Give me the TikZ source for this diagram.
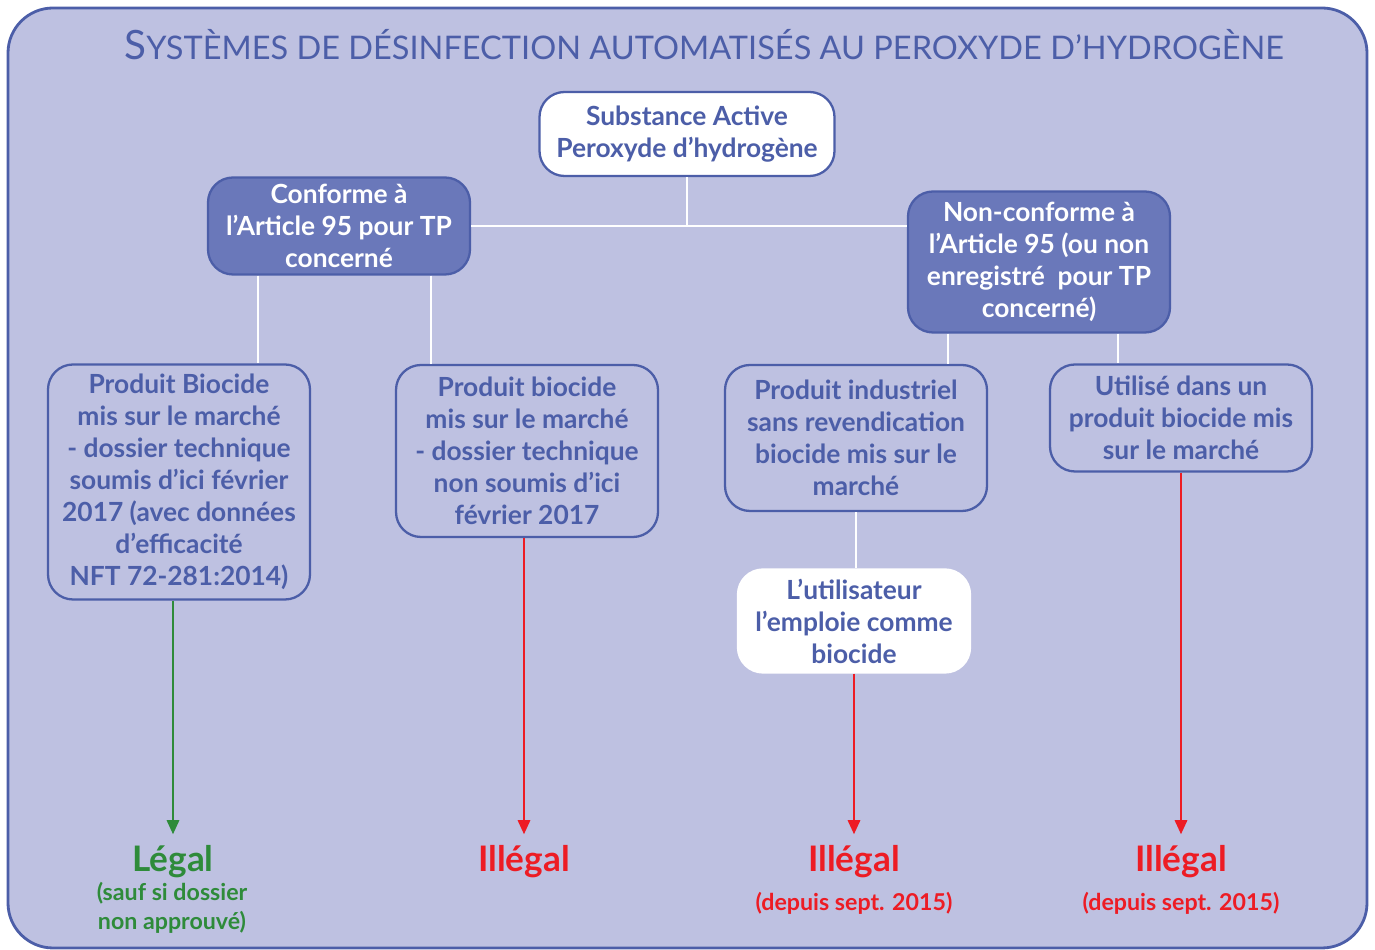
\documentclass[tikz,border=0pt]{standalone}
\usepackage{fontspec}
\setmainfont{Lato}
\usetikzlibrary{arrows.meta,positioning}

\definecolor{framebg}{RGB}{190,193,225}
\definecolor{frameblue}{RGB}{76,94,168}
\definecolor{boxblue}{RGB}{106,120,186}
\definecolor{okgreen}{RGB}{46,139,58}
\definecolor{badred}{RGB}{237,28,36}

\begin{document}
\begin{tikzpicture}[
		font=\bfseries\fontsize{15}{18.2}\selectfont,
		darkbox/.style={draw=frameblue, fill=boxblue, text=white, line width=1.3pt, rounded corners=0.5cm, align=center, minimum width=5.24cm, inner sep=2pt},
		lightbox/.style={draw=frameblue, text=frameblue, line width=1.3pt, rounded corners=0.5cm, align=center, minimum width=5.24cm, inner sep=2pt},
		whitebox/.style={lightbox, fill=white},
		link/.style={white, line width=1.2pt},
		okarrow/.style={okgreen, line width=1.2pt, -{Triangle[length=8pt,width=7pt]}, shorten >=3pt},
		badarrow/.style={badred, line width=1.2pt, -{Triangle[length=8pt,width=7pt]}, shorten >=3pt},
		verdict/.style={font=\bfseries\fontsize{20}{22}\selectfont},
		remark/.style={font=\bfseries\fontsize{13.2}{16.4}\selectfont, align=center}
		]
		\useasboundingbox (0,0) rectangle (27.5,19);
		% Background frame and title
		\draw [frameblue, fill=framebg, line width=1.6pt, rounded corners=0.9cm]
		(0.16,0.04) rectangle (27.34,18.84);
		\node (title) [text=frameblue, font=\mdseries] at (14.08,18.1)
		{{\fontsize{23}{23}\selectfont S}{\fontsize{18.5}{18.5}\selectfont YSTÈMES DE DÉSINFECTION AUTOMATISÉS AU PEROXYDE D’HYDROGÈNE}};
		
		% Boxes
		\node (root) [whitebox, minimum width=5.9cm, minimum height=1.68cm] at (13.74,16.32)
		{Substance Active\\Peroxyde d’hydrogène};
		\node (conf) [darkbox, minimum height=1.94cm] at (6.78,14.48)
		{Conforme à\\l’Article 95 pour TP\\concerné};
		\node (nonconf) [darkbox, minimum height=2.82cm] at (20.78,13.76)
		{Non-conforme à\\l’Article 95 (ou non\\enregistré\ \ pour TP\\concerné)};
		
		\node (pa) [lightbox, minimum height=4.7cm] at (3.58,9.36)
		{Produit Biocide\\mis sur le marché\\- dossier technique\\soumis d’ici février\\2017 (avec données\\d’efficacité\\NFT 72-281:2014)};
		\node (pb) [lightbox, minimum height=3.44cm] at (10.54,9.98)
		{Produit biocide\\mis sur le marché\\- dossier technique\\non soumis d’ici\\février 2017};
		\node (pc) [lightbox, minimum height=2.92cm] at (17.12,10.24)
		{Produit industriel\\sans revendication\\biocide mis sur le\\marché};
		\node (pd) [lightbox, minimum height=2.14cm] at (23.62,10.64)
		{Utilisé dans un\\produit biocide mis\\sur le marché};
		\node (user) [whitebox, draw=white, minimum width=4.64cm, minimum height=2.06cm] at (17.08,6.58)
		{L’utilisateur\\l’emploie comme\\biocide};
		
		% Verdicts
		\node (legal) [verdict, text=okgreen] at (3.46,1.76) {Légal};
		\node (legalnote) [remark, text=okgreen] at (3.44,0.84) {(sauf si dossier\\non approuvé)};
		\node (illegalb) [verdict, text=badred] at (10.48,1.76) {Illégal};
		\node (illegalc) [verdict, text=badred] at (17.08,1.76) {Illégal};
		\node (illegalcnote) [remark, text=badred] at (17.08,0.94) {(depuis sept. 2015)};
		\node (illegald) [verdict, text=badred] at (23.62,1.76) {Illégal};
		\node (illegaldnote) [remark, text=badred] at (23.62,0.94) {(depuis sept. 2015)};
		
		% Tree lines
		\draw[link] (root) -- (root |- conf.east);
		\draw[link] (conf.east) -- (conf.east -| nonconf.west);
		\draw[link] ([xshift=-1.62cm]conf.south) -- ([xshift=-1.62cm]conf.south |- pa.north);
		\draw[link] ([xshift=1.84cm]conf.south) -- ([xshift=1.84cm]conf.south |- pb.north);
		\draw[link] ([xshift=-1.82cm]nonconf.south) -- ([xshift=-1.82cm]nonconf.south |- pc.north);
		\draw[link] ([xshift=1.58cm]nonconf.south) -- ([xshift=1.58cm]nonconf.south |- pd.north);
		\draw[link] (pc) -- (pc |- user.north);
		
		% Arrows to verdicts
		\draw[okarrow] (pa.south -| legal) -- (legal);
		\draw[badarrow] (pb.south -| illegalb) -- (illegalb);
		\draw[badarrow] (user.south -| illegalc) -- (illegalc);
		\draw[badarrow] (pd.south -| illegald) -- (illegald);
		\end{tikzpicture}
\end{document}
